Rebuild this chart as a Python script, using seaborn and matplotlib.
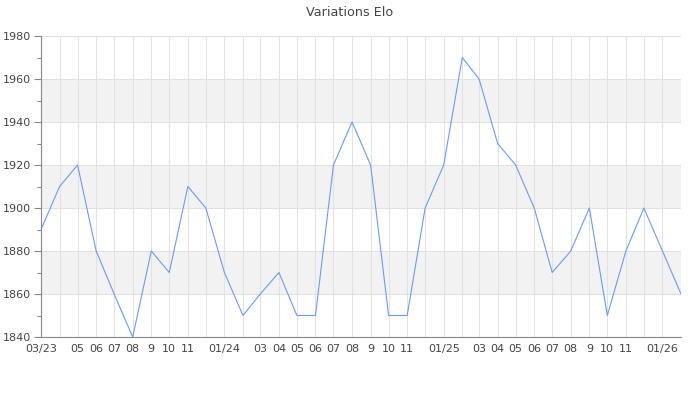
import matplotlib
matplotlib.use("Agg")
import matplotlib.pyplot as plt
import seaborn as sns
import numpy as np
import pandas as pd
from matplotlib.ticker import MultipleLocator

months = pd.date_range("2023-03-01", "2026-02-01", freq="MS")
elo = [1890, 1910, 1920, 1880, 1860, 1840, 1880, 1870, 1910, 1900,
       1870, 1850, 1860, 1870, 1850, 1850, 1920, 1940, 1920, 1850,
       1850, 1900, 1920, 1970, 1960, 1930, 1920, 1900, 1870, 1880,
       1900, 1850, 1880, 1900, 1880, 1860]
tick_labels = ["03/23", "", "05", "06", "07", "08", "9", "10", "11", "",
               "01/24", "", "03", "04", "05", "06", "07", "08", "9", "10",
               "11", "", "01/25", "", "03", "04", "05", "06", "07", "08",
               "9", "10", "11", "", "01/26", ""]
y_min, y_max = 1840, 1980

df = pd.DataFrame({"month": months, "elo": elo})

sns.set_style("white")
plt.rcParams["font.family"] = ["DejaVu Sans"]

fig = plt.figure(figsize=(7, 4), dpi=100)
ax = fig.add_axes([0.0586, 0.1575, 0.9143, 0.7525])

# alternating bands
for lo in range(y_min + 20, y_max, 40):
    ax.axhspan(lo, lo + 20, color="#f2f2f2", zorder=0, lw=0)

sns.lineplot(data=df, x="month", y="elo", ax=ax, color="#6d9bf1", lw=0.8, zorder=3)

ax.set_xlim(months[0], months[-1])
ax.set_ylim(y_min, y_max)
ax.set_xticks(months)
ax.set_xticklabels(tick_labels)
ax.yaxis.set_major_locator(MultipleLocator(20))
ax.yaxis.set_minor_locator(MultipleLocator(10))
ax.grid(True, which="major", color="#e2e2e2", lw=0.8, zorder=1)
ax.set_axisbelow(True)

ax.tick_params(axis="x", length=0, labelsize=8, colors="#444444", pad=5)
ax.tick_params(axis="y", which="major", length=5, width=0.8, color="#888888",
               labelsize=8, labelcolor="#444444", pad=2, left=True)
ax.tick_params(axis="y", which="minor", length=3, width=0.8, color="#888888", left=True)

for side in ["top", "right"]:
    ax.spines[side].set_visible(False)
for side in ["left", "bottom"]:
    ax.spines[side].set_color("#888888")
    ax.spines[side].set_linewidth(0.8)

ax.set_xlabel("")
ax.set_ylabel("")
fig.text(0.5, 0.985, "Variations Elo", ha="center", va="top", fontsize=9.2, color="#444444")

fig.savefig("out.png", dpi=100)
plt.close(fig)
